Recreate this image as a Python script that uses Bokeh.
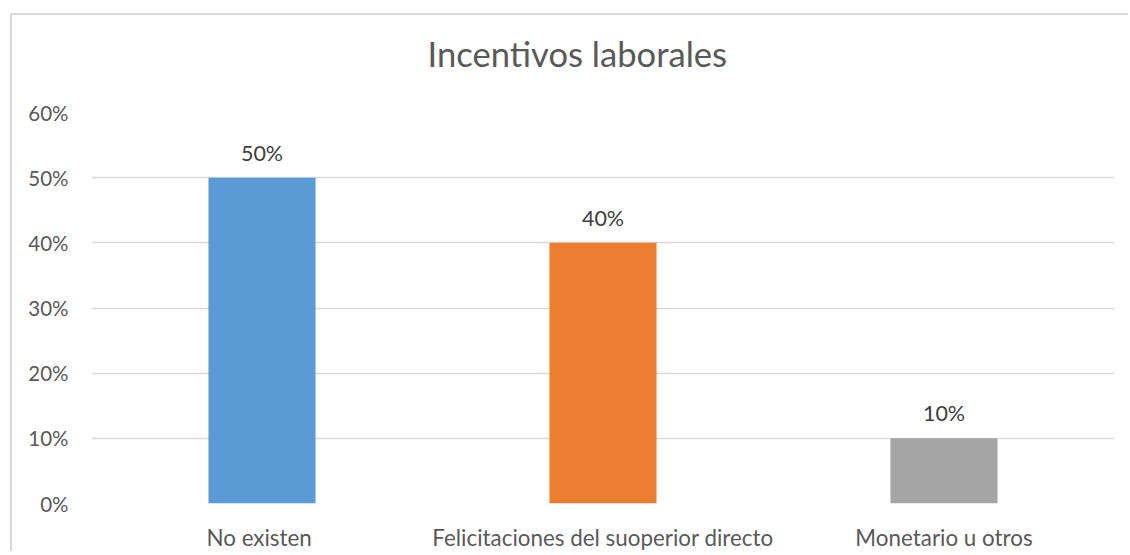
from bokeh.plotting import figure
from bokeh.models import NumeralTickFormatter, FixedTicker, Title
from bokeh.core.properties import value
from bokeh.embed import file_html
from bokeh.resources import INLINE

title_text = "Incentivos laborales"
categories = ["No  existen", "Felicitaciones del suoperior directo", "Monetario u otros"]
values = [0.50, 0.40, 0.10]
labels = ["50%", "40%", "10%"]
colors = ["#5B9BD5", "#ED7D31", "#A5A5A5"]
y_ticks = [0.0, 0.1, 0.2, 0.3, 0.4, 0.5, 0.6]

FONT = "Lato"
TXT = "#595959"

p = figure(
    x_range=categories, y_range=(0, 0.6),
    width=1118, height=538,
    output_backend="svg", toolbar_location=None,
    min_border_left=79, min_border_right=16, min_border_top=97, min_border_bottom=44,
)
p.title.visible = False
p.styles = {"margin-left": "12px", "margin-top": "15px",
            "box-shadow": "-2px -2px 0px 0px #d9d9d9"}

p.vbar(x=categories, top=values, width=0.314, color=colors, line_color=None)
p.text(x=categories, y=values, text=labels, text_align="center", text_baseline="alphabetic",
       y_offset=-25, text_font=value(FONT), text_font_size="21.5px", text_color="#404040")

spacer = Title(text=" ", text_font_size="10px", standoff=26)
p.add_layout(spacer, "above")
main_title = Title(text=title_text, text_font=FONT, text_font_size="34.6px",
                   text_font_style="normal", text_color=TXT, align="left",
                   offset=336, standoff=0)
p.add_layout(main_title, "above")

p.outline_line_color = None
p.xgrid.grid_line_color = None
p.ygrid.grid_line_color = "#D9D9D9"
p.ygrid.grid_line_width = 1.5
p.yaxis.ticker = FixedTicker(ticks=y_ticks)
p.yaxis.formatter = NumeralTickFormatter(format="0%")
for ax in (p.xaxis, p.yaxis):
    ax.axis_line_color = None
    ax.major_tick_line_color = None
    ax.minor_tick_line_color = None
    ax.major_label_text_font = FONT
    ax.major_label_text_color = TXT
p.yaxis.major_label_text_font_size = "20.5px"
p.xaxis.major_label_text_font_size = "22.4px"
p.yaxis.major_label_standoff = 17
p.xaxis.major_label_standoff = 14

open("out.html", "w").write(file_html(p, INLINE))
